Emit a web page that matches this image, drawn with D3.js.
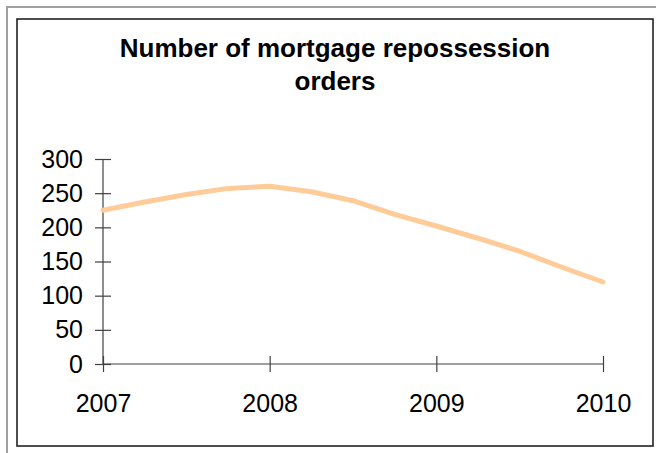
<!DOCTYPE html>
<html>
<head>
<meta charset="utf-8">
<script src="https://cdn.jsdelivr.net/npm/d3@7"></script>
<style>
  html, body { margin: 0; padding: 0; background: #fff; }
  svg { display: block; font-family: "Liberation Sans", Arial, Helvetica, sans-serif; }
</style>
</head>
<body>
<svg id="chart"></svg>
<script>
// quarterly points, 2007 to 2010
var quarters = [2007, 2007.25, 2007.5, 2007.75, 2008, 2008.25, 2008.5, 2008.75, 2009, 2009.25, 2009.5, 2009.75, 2010];
var orders = [225, 237, 248, 257, 260, 252, 239, 219, 202, 184, 165, 142, 120];
var yearTicks = [2007, 2008, 2009, 2010];
var valueTicks = [0, 50, 100, 150, 200, 250, 300];
var titleLines = ["Number of mortgage repossession", "orders"];

var svgWidth = 656, svgHeight = 453;

var chart = d3.select('#chart')
	.attr('width', svgWidth)
	.attr('height', svgHeight);

// outer grey frame (runs off the right and bottom edges)
chart.append('rect')
	.attr('x', 7).attr('y', 7)
	.attr('width', svgWidth).attr('height', svgHeight)
	.attr('fill', 'none')
	.attr('stroke', '#a0a0a0')
	.attr('stroke-width', 2);

// chart area box
chart.append('rect')
	.attr('x', 17).attr('y', 19)
	.attr('width', 636).attr('height', 427)
	.attr('fill', '#fff')
	.attr('stroke', '#222')
	.attr('stroke-width', 1.6);

chart.append('g')
	.attr('id', 'title')
	.selectAll('text')
	.data(titleLines)
	.enter().append('text')
	.attr('x', 335)
	.attr('y', function(d, i){ return 57 + i * 33; })
	.attr('text-anchor', 'middle')
	.style('font-size', '26px')
	.style('font-weight', 'bold')
	.style('fill', '#000')
	.text(function(d){ return d; });

var xScale = d3.scaleLinear()
	.domain([2007, 2010])
	.range([103, 603]);

var yScale = d3.scaleLinear()
	.domain([0, 300])
	.range([364, 159]);

var xAxis = chart.append('g')
	.attr('id', 'x-axis')
	.attr('transform', 'translate(0,' + yScale(0) + ')')
	.call(d3.axisBottom(xScale)
		.tickValues(yearTicks)
		.tickFormat(d3.format('d'))
		.tickSize(8)
		.tickPadding(34));

var yAxis = chart.append('g')
	.attr('id', 'y-axis')
	.attr('transform', 'translate(' + xScale(2007) + ',0)')
	.call(d3.axisLeft(yScale)
		.tickValues(valueTicks)
		.tickSize(8)
		.tickPadding(12));

// ticks cross the axis line, like the original
chart.selectAll('#x-axis .tick line').attr('y1', -8);
chart.selectAll('#y-axis .tick line').attr('x1', 8);
chart.selectAll('#x-axis .domain, #y-axis .domain')
	.attr('d', function(){
		return this.parentNode.id == 'x-axis'
			? 'M' + xScale(2007) + ',0H' + xScale(2010)
			: 'M0,' + yScale(0) + 'V' + yScale(300);
	});
chart.selectAll('#x-axis path, #x-axis line, #y-axis path, #y-axis line')
	.attr('stroke', '#404040')
	.attr('stroke-width', 1.2);
chart.selectAll('#x-axis text, #y-axis text')
	.style('font-size', '25px')
	.style('font-family', '"Liberation Sans", Arial, sans-serif')
	.attr('fill', '#000');
chart.selectAll('#x-axis text').attr('dy', '0.71em').attr('y', 30);

var line = d3.line()
	.x(function(d, i){ return xScale(quarters[i]); })
	.y(function(d){ return yScale(d); });

chart.append('path')
	.datum(orders)
	.attr('d', line)
	.attr('fill', 'none')
	.attr('stroke', '#FFCC99')
	.attr('stroke-width', 5)
	.attr('stroke-linecap', 'round')
	.attr('stroke-linejoin', 'round');
</script>
</body>
</html>
